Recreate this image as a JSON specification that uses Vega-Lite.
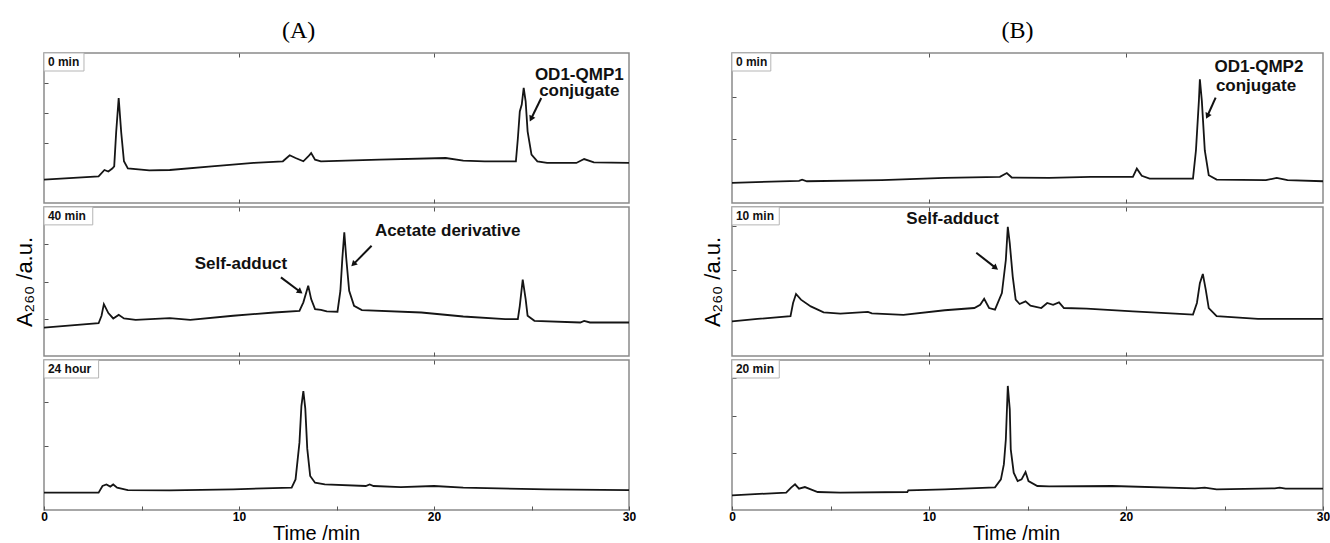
{
  "$schema": "https://vega.github.io/schema/vega-lite/v6.json",
  "padding": {"left": 12, "top": 18, "right": 0, "bottom": 0},
  "background": "white",
  "config": {
    "view": {"stroke": "#8a8a8a", "strokeWidth": 1.5},
    "axis": {"domain": false, "grid": false, "tickColor": "#555555", "tickWidth": 1, "labels": false, "tickSize": 4},
    "text": {"font": "Liberation Sans"}
  },
  "datasets": {
    "trace": [
      {"s":"A1","t":0,"v":15.6},{"s":"A1","t":2.8,"v":17.8},{"s":"A1","t":3.1,"v":22},{"s":"A1","t":3.3,"v":21},{"s":"A1","t":3.5,"v":23},{"s":"A1","t":3.6,"v":24.4},{"s":"A1","t":3.7,"v":47},{"s":"A1","t":3.83,"v":70},{"s":"A1","t":3.96,"v":47},{"s":"A1","t":4.1,"v":27.8},{"s":"A1","t":4.3,"v":23},{"s":"A1","t":5.4,"v":21.8},{"s":"A1","t":6.45,"v":22},{"s":"A1","t":8.6,"v":24.4},{"s":"A1","t":10.75,"v":26.7},{"s":"A1","t":12.25,"v":27.8},{"s":"A1","t":12.6,"v":31.8},{"s":"A1","t":12.9,"v":30},{"s":"A1","t":13.3,"v":27.8},{"s":"A1","t":13.55,"v":31},{"s":"A1","t":13.7,"v":33.3},{"s":"A1","t":13.9,"v":28.9},{"s":"A1","t":14.2,"v":27.8},{"s":"A1","t":17.2,"v":28.9},{"s":"A1","t":20.6,"v":30},{"s":"A1","t":21.5,"v":28.2},{"s":"A1","t":22.6,"v":27.8},{"s":"A1","t":24.2,"v":27.8},{"s":"A1","t":24.3,"v":43},{"s":"A1","t":24.4,"v":61},{"s":"A1","t":24.5,"v":65.6},{"s":"A1","t":24.6,"v":76.7},{"s":"A1","t":24.7,"v":67.8},{"s":"A1","t":24.8,"v":47.8},{"s":"A1","t":25.0,"v":32.2},{"s":"A1","t":25.3,"v":27.8},{"s":"A1","t":25.8,"v":26.7},{"s":"A1","t":27.3,"v":26.7},{"s":"A1","t":27.7,"v":29.3},{"s":"A1","t":28.2,"v":27.1},{"s":"A1","t":30,"v":26.7},
      {"s":"A2","t":0,"v":19.1},{"s":"A2","t":2.8,"v":22},{"s":"A2","t":2.95,"v":27},{"s":"A2","t":3.07,"v":34.8},{"s":"A2","t":3.3,"v":28.8},{"s":"A2","t":3.55,"v":25.2},{"s":"A2","t":3.83,"v":27.6},{"s":"A2","t":4.1,"v":25.2},{"s":"A2","t":4.7,"v":24.3},{"s":"A2","t":6.45,"v":25.4},{"s":"A2","t":7.5,"v":24.3},{"s":"A2","t":9.7,"v":27},{"s":"A2","t":11.8,"v":29.2},{"s":"A2","t":13.1,"v":30.3},{"s":"A2","t":13.3,"v":36},{"s":"A2","t":13.55,"v":47.2},{"s":"A2","t":13.7,"v":38.2},{"s":"A2","t":13.9,"v":31.5},{"s":"A2","t":14.2,"v":31},{"s":"A2","t":14.5,"v":29.9},{"s":"A2","t":15.05,"v":29.7},{"s":"A2","t":15.2,"v":43.8},{"s":"A2","t":15.3,"v":65.6},{"s":"A2","t":15.4,"v":83},{"s":"A2","t":15.5,"v":65.6},{"s":"A2","t":15.65,"v":43.8},{"s":"A2","t":15.9,"v":33.7},{"s":"A2","t":16.3,"v":30.8},{"s":"A2","t":19.35,"v":29.2},{"s":"A2","t":21.5,"v":26.5},{"s":"A2","t":23.65,"v":24.7},{"s":"A2","t":24.3,"v":24.7},{"s":"A2","t":24.4,"v":33.7},{"s":"A2","t":24.55,"v":51.2},{"s":"A2","t":24.7,"v":38.2},{"s":"A2","t":24.8,"v":27},{"s":"A2","t":25.15,"v":23.6},{"s":"A2","t":27.5,"v":22.5},{"s":"A2","t":27.7,"v":23.6},{"s":"A2","t":28.0,"v":22.5},{"s":"A2","t":30,"v":22.5},
      {"s":"A3","t":0,"v":11.6},{"s":"A3","t":2.8,"v":11.6},{"s":"A3","t":3.0,"v":16},{"s":"A3","t":3.2,"v":17},{"s":"A3","t":3.4,"v":15.6},{"s":"A3","t":3.55,"v":17},{"s":"A3","t":3.75,"v":14.9},{"s":"A3","t":4.3,"v":13.3},{"s":"A3","t":6.45,"v":13.1},{"s":"A3","t":9.7,"v":13.8},{"s":"A3","t":12.7,"v":14.9},{"s":"A3","t":12.9,"v":20.4},{"s":"A3","t":13.1,"v":44.9},{"s":"A3","t":13.2,"v":69.3},{"s":"A3","t":13.3,"v":79.3},{"s":"A3","t":13.4,"v":67.6},{"s":"A3","t":13.5,"v":40.9},{"s":"A3","t":13.65,"v":22.7},{"s":"A3","t":13.9,"v":18.2},{"s":"A3","t":14.4,"v":17.1},{"s":"A3","t":16.5,"v":16},{"s":"A3","t":16.7,"v":17},{"s":"A3","t":16.9,"v":16},{"s":"A3","t":18.3,"v":15.3},{"s":"A3","t":20.0,"v":16},{"s":"A3","t":21.5,"v":14.9},{"s":"A3","t":25.8,"v":13.8},{"s":"A3","t":30,"v":13.3},
      {"s":"B1","t":0,"v":13.4},{"s":"B1","t":3.4,"v":14.8},{"s":"B1","t":3.56,"v":15.6},{"s":"B1","t":3.8,"v":14.5},{"s":"B1","t":7.6,"v":15.2},{"s":"B1","t":10.8,"v":16.7},{"s":"B1","t":13.6,"v":17.4},{"s":"B1","t":13.95,"v":20},{"s":"B1","t":14.2,"v":17},{"s":"B1","t":16.1,"v":16.7},{"s":"B1","t":18.2,"v":17.4},{"s":"B1","t":20.35,"v":17.4},{"s":"B1","t":20.55,"v":22.9},{"s":"B1","t":20.8,"v":18.1},{"s":"B1","t":21.2,"v":16.3},{"s":"B1","t":23.4,"v":16.3},{"s":"B1","t":23.55,"v":35},{"s":"B1","t":23.7,"v":68.1},{"s":"B1","t":23.75,"v":82.4},{"s":"B1","t":23.85,"v":68.1},{"s":"B1","t":24.0,"v":35},{"s":"B1","t":24.2,"v":18.5},{"s":"B1","t":24.6,"v":15.6},{"s":"B1","t":27.1,"v":15.2},{"s":"B1","t":27.65,"v":16.7},{"s":"B1","t":28.2,"v":15.2},{"s":"B1","t":30,"v":14.5},
      {"s":"B2","t":0,"v":23.3},{"s":"B2","t":1.3,"v":24.9},{"s":"B2","t":2.97,"v":26.7},{"s":"B2","t":3.1,"v":35.6},{"s":"B2","t":3.25,"v":41.6},{"s":"B2","t":3.5,"v":37.8},{"s":"B2","t":4.0,"v":33.3},{"s":"B2","t":4.65,"v":29.3},{"s":"B2","t":5.5,"v":28.4},{"s":"B2","t":6.9,"v":29.6},{"s":"B2","t":7.1,"v":28.6},{"s":"B2","t":8.7,"v":27.6},{"s":"B2","t":10.8,"v":30.7},{"s":"B2","t":12.3,"v":32.2},{"s":"B2","t":12.6,"v":34.4},{"s":"B2","t":12.8,"v":38.4},{"s":"B2","t":13.05,"v":32.2},{"s":"B2","t":13.35,"v":31.1},{"s":"B2","t":13.7,"v":42.2},{"s":"B2","t":13.9,"v":64.4},{"s":"B2","t":14.0,"v":86.7},{"s":"B2","t":14.1,"v":75.6},{"s":"B2","t":14.25,"v":53.3},{"s":"B2","t":14.4,"v":37.8},{"s":"B2","t":14.6,"v":34.9},{"s":"B2","t":14.9,"v":36.7},{"s":"B2","t":15.15,"v":33.8},{"s":"B2","t":15.7,"v":32.2},{"s":"B2","t":16.0,"v":35.6},{"s":"B2","t":16.3,"v":34.4},{"s":"B2","t":16.6,"v":36},{"s":"B2","t":16.85,"v":32.2},{"s":"B2","t":18.0,"v":31.8},{"s":"B2","t":20.35,"v":30},{"s":"B2","t":22.5,"v":28.4},{"s":"B2","t":23.4,"v":27.8},{"s":"B2","t":23.6,"v":35.6},{"s":"B2","t":23.75,"v":48.9},{"s":"B2","t":23.9,"v":55.1},{"s":"B2","t":24.05,"v":44.4},{"s":"B2","t":24.2,"v":32.2},{"s":"B2","t":24.6,"v":26.7},{"s":"B2","t":26.7,"v":24.9},{"s":"B2","t":30,"v":24.9},
      {"s":"B3","t":0,"v":9.8},{"s":"B3","t":2.75,"v":11.6},{"s":"B3","t":3.0,"v":14.9},{"s":"B3","t":3.2,"v":17.1},{"s":"B3","t":3.4,"v":14.2},{"s":"B3","t":3.7,"v":15.3},{"s":"B3","t":4.0,"v":13.8},{"s":"B3","t":4.35,"v":12},{"s":"B3","t":5.5,"v":11.6},{"s":"B3","t":8.9,"v":12},{"s":"B3","t":8.95,"v":13.1},{"s":"B3","t":10.8,"v":13.8},{"s":"B3","t":13.35,"v":15.1},{"s":"B3","t":13.65,"v":20.4},{"s":"B3","t":13.8,"v":30.4},{"s":"B3","t":13.9,"v":47},{"s":"B3","t":14.0,"v":82.7},{"s":"B3","t":14.1,"v":67.1},{"s":"B3","t":14.15,"v":40.4},{"s":"B3","t":14.3,"v":24.9},{"s":"B3","t":14.5,"v":19.3},{"s":"B3","t":14.7,"v":20.4},{"s":"B3","t":14.9,"v":25.3},{"s":"B3","t":15.05,"v":19.3},{"s":"B3","t":15.5,"v":16},{"s":"B3","t":16.1,"v":15.8},{"s":"B3","t":19.3,"v":16},{"s":"B3","t":23.5,"v":14.4},{"s":"B3","t":24.0,"v":14.9},{"s":"B3","t":24.6,"v":13.8},{"s":"B3","t":27.55,"v":14.4},{"s":"B3","t":27.8,"v":14.9},{"s":"B3","t":28.1,"v":14.2},{"s":"B3","t":30,"v":14.2}
    ],
    "boxes": [
      {"s":"A1","x0":0,"x1":2.05,"y0":88,"y1":100,"tx":0.2,"ty":94,"label":"0 min"},
      {"s":"A2","x0":0,"x1":2.5,"y0":88,"y1":100,"tx":0.2,"ty":94,"label":"40 min"},
      {"s":"A3","x0":0,"x1":2.8,"y0":88,"y1":100,"tx":0.2,"ty":94,"label":"24 hour"},
      {"s":"B1","x0":0,"x1":1.97,"y0":88,"y1":100,"tx":0.2,"ty":94,"label":"0 min"},
      {"s":"B2","x0":0,"x1":2.4,"y0":88,"y1":100,"tx":0.2,"ty":94,"label":"10 min"},
      {"s":"B3","x0":0,"x1":2.4,"y0":88,"y1":100,"tx":0.2,"ty":94,"label":"20 min"}
    ],
    "notes": [
      {"s":"A1","t":27.45,"v":85.5,"text":"OD1-QMP1"},{"s":"A1","t":27.45,"v":74.5,"text":"conjugate"},
      {"s":"A2","t":10.1,"v":61.5,"text":"Self-adduct"},{"s":"A2","t":20.7,"v":84,"text":"Acetate derivative"},
      {"s":"B1","t":26.75,"v":91,"text":"OD1-QMP2"},{"s":"B1","t":26.6,"v":78,"text":"conjugate"},
      {"s":"B2","t":11.2,"v":92,"text":"Self-adduct"}
    ],
    "arrows": [
      {"s":"A1","id":"a1","t":25.5,"v":70,"t2":25.0,"v2":56.7},
      {"s":"A2","id":"a2s","t":12.15,"v":52.8,"t2":13.1,"v2":43.5},
      {"s":"A2","id":"a2a","t":16.8,"v":74,"t2":15.9,"v2":62},
      {"s":"B1","id":"b1","t":24.55,"v":70.3,"t2":24.15,"v2":58.5},
      {"s":"B2","id":"b2","t":12.4,"v":69.3,"t2":13.35,"v2":59.5}
    ]
  },
  "hconcat": [
    {
      "title": {"text": "(A)", "font": "Liberation Serif", "fontSize": 24, "fontWeight": "normal", "color": "#000000", "anchor": "middle", "offset": 9, "dx": -26},
      "spacing": 0,
      "vconcat": [
        {
          "width": 585, "height": 150,
          "resolve": {"axis": {"x": "independent"}},
          "layer": [
            {"data": {"name": "trace"}, "transform": [{"filter": "datum.s==='A1'"}], "mark": {"type": "line", "color": "#151515", "strokeWidth": 1.8},
             "encoding": {"x": {"field": "t", "type": "quantitative", "scale": {"domain": [0, 30], "nice": false, "zero": false}, "axis": {"orient": "bottom", "offset": -4, "tickSize": 4, "values": [10, 20], "labels": false, "title": null}},
                          "y": {"field": "v", "type": "quantitative", "scale": {"domain": [0, 100], "nice": false, "zero": false}, "axis": {"offset": -4, "tickSize": 4, "values": [40, 60, 80], "labels": false, "title": null}}}},
            {"data": {"name": "boxes"}, "transform": [{"filter": "datum.s==='A1'"}], "mark": {"type": "rect", "fill": "white", "stroke": "#b5b5b5", "strokeWidth": 1},
             "encoding": {"x": {"field": "x0", "type": "quantitative", "scale": {"domain": [0, 30], "nice": false, "zero": false}, "axis": {"orient": "top", "offset": -4, "tickSize": 4, "values": [10, 20], "labels": false, "title": null}}, "x2": {"field": "x1"},
                          "y": {"field": "y0", "type": "quantitative", "scale": {"domain": [0, 100], "nice": false, "zero": false}}, "y2": {"field": "y1"}}},
            {"data": {"name": "boxes"}, "transform": [{"filter": "datum.s==='A1'"}], "mark": {"type": "text", "fontWeight": "bold", "fontSize": 12, "align": "left", "baseline": "middle", "color": "#111111"},
             "encoding": {"x": {"field": "tx", "type": "quantitative", "scale": {"domain": [0, 30], "nice": false, "zero": false}, "axis": null},
                          "y": {"field": "ty", "type": "quantitative", "scale": {"domain": [0, 100], "nice": false, "zero": false}}, "text": {"field": "label"}}},
            {"data": {"name": "notes"}, "transform": [{"filter": "datum.s==='A1'"}], "mark": {"type": "text", "fontWeight": "bold", "fontSize": 17, "align": "center", "baseline": "middle", "color": "#111111"},
             "encoding": {"x": {"field": "t", "type": "quantitative", "scale": {"domain": [0, 30], "nice": false, "zero": false}, "axis": null},
                          "y": {"field": "v", "type": "quantitative", "scale": {"domain": [0, 100], "nice": false, "zero": false}}, "text": {"field": "text"}}},
            {"data": {"name": "arrows"}, "transform": [{"filter": "datum.s==='A1'"}], "mark": {"type": "rule", "strokeWidth": 2, "color": "#111111"},
             "encoding": {"x": {"field": "t", "type": "quantitative", "scale": {"domain": [0, 30], "nice": false, "zero": false}, "axis": null}, "x2": {"field": "t2"},
                          "y": {"field": "v", "type": "quantitative", "scale": {"domain": [0, 100], "nice": false, "zero": false}}, "y2": {"field": "v2"}}},
            {"data": {"name": "arrows"}, "transform": [{"filter": "datum.id==='a1'"}], "mark": {"type": "point", "shape": "triangle", "angle": 206, "filled": true, "size": 45, "color": "#111111", "opacity": 1},
             "encoding": {"x": {"field": "t2", "type": "quantitative", "scale": {"domain": [0, 30], "nice": false, "zero": false}, "axis": null},
                          "y": {"field": "v2", "type": "quantitative", "scale": {"domain": [0, 100], "nice": false, "zero": false}}}}
          ]
        },
        {
          "width": 585, "height": 149,
          "resolve": {"axis": {"x": "independent"}},
          "layer": [
            {"data": {"name": "trace"}, "transform": [{"filter": "datum.s==='A2'"}], "mark": {"type": "line", "color": "#151515", "strokeWidth": 1.8},
             "encoding": {"x": {"field": "t", "type": "quantitative", "scale": {"domain": [0, 30], "nice": false, "zero": false}, "axis": {"orient": "bottom", "offset": -4, "tickSize": 4, "values": [10, 20], "labels": false, "title": null}},
                          "y": {"field": "v", "type": "quantitative", "scale": {"domain": [0, 100], "nice": false, "zero": false}, "axis": {"offset": -4, "tickSize": 4, "values": [25, 50, 75], "labels": false, "title": "A₂₆₀ /a.u.", "titleFont": "Liberation Sans", "titleFontSize": 22, "titleFontWeight": "normal", "titleColor": "#000000", "titlePadding": 7}}}},
            {"data": {"name": "boxes"}, "transform": [{"filter": "datum.s==='A2'"}], "mark": {"type": "rect", "fill": "white", "stroke": "#b5b5b5", "strokeWidth": 1},
             "encoding": {"x": {"field": "x0", "type": "quantitative", "scale": {"domain": [0, 30], "nice": false, "zero": false}, "axis": {"orient": "top", "offset": -4, "tickSize": 4, "values": [10, 20], "labels": false, "title": null}}, "x2": {"field": "x1"},
                          "y": {"field": "y0", "type": "quantitative", "scale": {"domain": [0, 100], "nice": false, "zero": false}}, "y2": {"field": "y1"}}},
            {"data": {"name": "boxes"}, "transform": [{"filter": "datum.s==='A2'"}], "mark": {"type": "text", "fontWeight": "bold", "fontSize": 12, "align": "left", "baseline": "middle", "color": "#111111"},
             "encoding": {"x": {"field": "tx", "type": "quantitative", "scale": {"domain": [0, 30], "nice": false, "zero": false}, "axis": null},
                          "y": {"field": "ty", "type": "quantitative", "scale": {"domain": [0, 100], "nice": false, "zero": false}}, "text": {"field": "label"}}},
            {"data": {"name": "notes"}, "transform": [{"filter": "datum.s==='A2'"}], "mark": {"type": "text", "fontWeight": "bold", "fontSize": 17, "align": "center", "baseline": "middle", "color": "#111111"},
             "encoding": {"x": {"field": "t", "type": "quantitative", "scale": {"domain": [0, 30], "nice": false, "zero": false}, "axis": null},
                          "y": {"field": "v", "type": "quantitative", "scale": {"domain": [0, 100], "nice": false, "zero": false}}, "text": {"field": "text"}}},
            {"data": {"name": "arrows"}, "transform": [{"filter": "datum.s==='A2'"}], "mark": {"type": "rule", "strokeWidth": 2, "color": "#111111"},
             "encoding": {"x": {"field": "t", "type": "quantitative", "scale": {"domain": [0, 30], "nice": false, "zero": false}, "axis": null}, "x2": {"field": "t2"},
                          "y": {"field": "v", "type": "quantitative", "scale": {"domain": [0, 100], "nice": false, "zero": false}}, "y2": {"field": "v2"}}},
            {"data": {"name": "arrows"}, "transform": [{"filter": "datum.id==='a2s'"}], "mark": {"type": "point", "shape": "triangle", "angle": 127, "filled": true, "size": 45, "color": "#111111", "opacity": 1},
             "encoding": {"x": {"field": "t2", "type": "quantitative", "scale": {"domain": [0, 30], "nice": false, "zero": false}, "axis": null},
                          "y": {"field": "v2", "type": "quantitative", "scale": {"domain": [0, 100], "nice": false, "zero": false}}}},
            {"data": {"name": "arrows"}, "transform": [{"filter": "datum.id==='a2a'"}], "mark": {"type": "point", "shape": "triangle", "angle": 225, "filled": true, "size": 45, "color": "#111111", "opacity": 1},
             "encoding": {"x": {"field": "t2", "type": "quantitative", "scale": {"domain": [0, 30], "nice": false, "zero": false}, "axis": null},
                          "y": {"field": "v2", "type": "quantitative", "scale": {"domain": [0, 100], "nice": false, "zero": false}}}}
          ]
        },
        {
          "width": 585, "height": 150,
          "resolve": {"axis": {"x": "independent"}},
          "layer": [
            {"data": {"name": "trace"}, "transform": [{"filter": "datum.s==='A3'"}], "mark": {"type": "line", "color": "#151515", "strokeWidth": 1.8},
             "encoding": {"x": {"field": "t", "type": "quantitative", "scale": {"domain": [0, 30], "nice": false, "zero": false}, "axis": {"orient": "bottom", "offset": -4, "tickSize": 4, "values": [0, 5, 10, 15, 20, 25, 30], "labels": true, "labelExpr": "datum.value % 10 === 0 ? datum.label : ''", "labelFont": "Liberation Sans", "labelFontWeight": "bold", "labelFontSize": 12, "labelColor": "#000000", "labelFlush": false, "labelOverlap": false, "labelPadding": 1, "title": "Time /min", "titleFont": "Liberation Sans", "titleFontSize": 20, "titleFontWeight": "normal", "titleColor": "#000000", "titlePadding": 1, "titleX": 272}},
                          "y": {"field": "v", "type": "quantitative", "scale": {"domain": [0, 100], "nice": false, "zero": false}, "axis": {"offset": -4, "tickSize": 4, "values": [43, 72], "labels": false, "title": null}}}},
            {"data": {"name": "boxes"}, "transform": [{"filter": "datum.s==='A3'"}], "mark": {"type": "rect", "fill": "white", "stroke": "#b5b5b5", "strokeWidth": 1},
             "encoding": {"x": {"field": "x0", "type": "quantitative", "scale": {"domain": [0, 30], "nice": false, "zero": false}, "axis": {"orient": "top", "offset": -4, "tickSize": 4, "values": [10, 20], "labels": false, "title": null}}, "x2": {"field": "x1"},
                          "y": {"field": "y0", "type": "quantitative", "scale": {"domain": [0, 100], "nice": false, "zero": false}}, "y2": {"field": "y1"}}},
            {"data": {"name": "boxes"}, "transform": [{"filter": "datum.s==='A3'"}], "mark": {"type": "text", "fontWeight": "bold", "fontSize": 12, "align": "left", "baseline": "middle", "color": "#111111"},
             "encoding": {"x": {"field": "tx", "type": "quantitative", "scale": {"domain": [0, 30], "nice": false, "zero": false}, "axis": null},
                          "y": {"field": "ty", "type": "quantitative", "scale": {"domain": [0, 100], "nice": false, "zero": false}}, "text": {"field": "label"}}}
          ]
        }
      ]
    },
    {
      "title": {"text": "(B)", "font": "Liberation Serif", "fontSize": 24, "fontWeight": "normal", "color": "#000000", "anchor": "middle", "offset": 9, "dx": 2},
      "spacing": 0,
      "vconcat": [
        {
          "width": 591, "height": 150,
          "resolve": {"axis": {"x": "independent"}},
          "layer": [
            {"data": {"name": "trace"}, "transform": [{"filter": "datum.s==='B1'"}], "mark": {"type": "line", "color": "#151515", "strokeWidth": 1.8},
             "encoding": {"x": {"field": "t", "type": "quantitative", "scale": {"domain": [0, 30], "nice": false, "zero": false}, "axis": {"orient": "bottom", "offset": -4, "tickSize": 4, "values": [10, 20], "labels": false, "title": null}},
                          "y": {"field": "v", "type": "quantitative", "scale": {"domain": [0, 100], "nice": false, "zero": false}, "axis": {"offset": -4, "tickSize": 4, "values": [43, 71], "labels": false, "title": null}}}},
            {"data": {"name": "boxes"}, "transform": [{"filter": "datum.s==='B1'"}], "mark": {"type": "rect", "fill": "white", "stroke": "#b5b5b5", "strokeWidth": 1},
             "encoding": {"x": {"field": "x0", "type": "quantitative", "scale": {"domain": [0, 30], "nice": false, "zero": false}, "axis": {"orient": "top", "offset": -4, "tickSize": 4, "values": [10, 20], "labels": false, "title": null}}, "x2": {"field": "x1"},
                          "y": {"field": "y0", "type": "quantitative", "scale": {"domain": [0, 100], "nice": false, "zero": false}}, "y2": {"field": "y1"}}},
            {"data": {"name": "boxes"}, "transform": [{"filter": "datum.s==='B1'"}], "mark": {"type": "text", "fontWeight": "bold", "fontSize": 12, "align": "left", "baseline": "middle", "color": "#111111"},
             "encoding": {"x": {"field": "tx", "type": "quantitative", "scale": {"domain": [0, 30], "nice": false, "zero": false}, "axis": null},
                          "y": {"field": "ty", "type": "quantitative", "scale": {"domain": [0, 100], "nice": false, "zero": false}}, "text": {"field": "label"}}},
            {"data": {"name": "notes"}, "transform": [{"filter": "datum.s==='B1'"}], "mark": {"type": "text", "fontWeight": "bold", "fontSize": 17, "align": "center", "baseline": "middle", "color": "#111111"},
             "encoding": {"x": {"field": "t", "type": "quantitative", "scale": {"domain": [0, 30], "nice": false, "zero": false}, "axis": null},
                          "y": {"field": "v", "type": "quantitative", "scale": {"domain": [0, 100], "nice": false, "zero": false}}, "text": {"field": "text"}}},
            {"data": {"name": "arrows"}, "transform": [{"filter": "datum.s==='B1'"}], "mark": {"type": "rule", "strokeWidth": 2, "color": "#111111"},
             "encoding": {"x": {"field": "t", "type": "quantitative", "scale": {"domain": [0, 30], "nice": false, "zero": false}, "axis": null}, "x2": {"field": "t2"},
                          "y": {"field": "v", "type": "quantitative", "scale": {"domain": [0, 100], "nice": false, "zero": false}}, "y2": {"field": "v2"}}},
            {"data": {"name": "arrows"}, "transform": [{"filter": "datum.id==='b1'"}], "mark": {"type": "point", "shape": "triangle", "angle": 205, "filled": true, "size": 45, "color": "#111111", "opacity": 1},
             "encoding": {"x": {"field": "t2", "type": "quantitative", "scale": {"domain": [0, 30], "nice": false, "zero": false}, "axis": null},
                          "y": {"field": "v2", "type": "quantitative", "scale": {"domain": [0, 100], "nice": false, "zero": false}}}}
          ]
        },
        {
          "width": 591, "height": 149,
          "resolve": {"axis": {"x": "independent"}},
          "layer": [
            {"data": {"name": "trace"}, "transform": [{"filter": "datum.s==='B2'"}], "mark": {"type": "line", "color": "#151515", "strokeWidth": 1.8},
             "encoding": {"x": {"field": "t", "type": "quantitative", "scale": {"domain": [0, 30], "nice": false, "zero": false}, "axis": {"orient": "bottom", "offset": -4, "tickSize": 4, "values": [10, 20], "labels": false, "title": null}},
                          "y": {"field": "v", "type": "quantitative", "scale": {"domain": [0, 100], "nice": false, "zero": false}, "axis": {"offset": -4, "tickSize": 4, "values": [58, 87], "labels": false, "title": "A₂₆₀ /a.u.", "titleFont": "Liberation Sans", "titleFontSize": 22, "titleFontWeight": "normal", "titleColor": "#000000", "titlePadding": 7}}}},
            {"data": {"name": "boxes"}, "transform": [{"filter": "datum.s==='B2'"}], "mark": {"type": "rect", "fill": "white", "stroke": "#b5b5b5", "strokeWidth": 1},
             "encoding": {"x": {"field": "x0", "type": "quantitative", "scale": {"domain": [0, 30], "nice": false, "zero": false}, "axis": {"orient": "top", "offset": -4, "tickSize": 4, "values": [10, 20], "labels": false, "title": null}}, "x2": {"field": "x1"},
                          "y": {"field": "y0", "type": "quantitative", "scale": {"domain": [0, 100], "nice": false, "zero": false}}, "y2": {"field": "y1"}}},
            {"data": {"name": "boxes"}, "transform": [{"filter": "datum.s==='B2'"}], "mark": {"type": "text", "fontWeight": "bold", "fontSize": 12, "align": "left", "baseline": "middle", "color": "#111111"},
             "encoding": {"x": {"field": "tx", "type": "quantitative", "scale": {"domain": [0, 30], "nice": false, "zero": false}, "axis": null},
                          "y": {"field": "ty", "type": "quantitative", "scale": {"domain": [0, 100], "nice": false, "zero": false}}, "text": {"field": "label"}}},
            {"data": {"name": "notes"}, "transform": [{"filter": "datum.s==='B2'"}], "mark": {"type": "text", "fontWeight": "bold", "fontSize": 17, "align": "center", "baseline": "middle", "color": "#111111"},
             "encoding": {"x": {"field": "t", "type": "quantitative", "scale": {"domain": [0, 30], "nice": false, "zero": false}, "axis": null},
                          "y": {"field": "v", "type": "quantitative", "scale": {"domain": [0, 100], "nice": false, "zero": false}}, "text": {"field": "text"}}},
            {"data": {"name": "arrows"}, "transform": [{"filter": "datum.s==='B2'"}], "mark": {"type": "rule", "strokeWidth": 2, "color": "#111111"},
             "encoding": {"x": {"field": "t", "type": "quantitative", "scale": {"domain": [0, 30], "nice": false, "zero": false}, "axis": null}, "x2": {"field": "t2"},
                          "y": {"field": "v", "type": "quantitative", "scale": {"domain": [0, 100], "nice": false, "zero": false}}, "y2": {"field": "v2"}}},
            {"data": {"name": "arrows"}, "transform": [{"filter": "datum.id==='b2'"}], "mark": {"type": "point", "shape": "triangle", "angle": 128, "filled": true, "size": 45, "color": "#111111", "opacity": 1},
             "encoding": {"x": {"field": "t2", "type": "quantitative", "scale": {"domain": [0, 30], "nice": false, "zero": false}, "axis": null},
                          "y": {"field": "v2", "type": "quantitative", "scale": {"domain": [0, 100], "nice": false, "zero": false}}}}
          ]
        },
        {
          "width": 591, "height": 150,
          "resolve": {"axis": {"x": "independent"}},
          "layer": [
            {"data": {"name": "trace"}, "transform": [{"filter": "datum.s==='B3'"}], "mark": {"type": "line", "color": "#151515", "strokeWidth": 1.8},
             "encoding": {"x": {"field": "t", "type": "quantitative", "scale": {"domain": [0, 30], "nice": false, "zero": false}, "axis": {"orient": "bottom", "offset": -4, "tickSize": 4, "values": [0, 5, 10, 15, 20, 25, 30], "labels": true, "labelExpr": "datum.value % 10 === 0 ? datum.label : ''", "labelFont": "Liberation Sans", "labelFontWeight": "bold", "labelFontSize": 12, "labelColor": "#000000", "labelFlush": false, "labelOverlap": false, "labelPadding": 1, "title": "Time /min", "titleFont": "Liberation Sans", "titleFontSize": 20, "titleFontWeight": "normal", "titleColor": "#000000", "titlePadding": 1, "titleX": 284}},
                          "y": {"field": "v", "type": "quantitative", "scale": {"domain": [0, 100], "nice": false, "zero": false}, "axis": {"offset": -4, "tickSize": 4, "values": [38, 63, 88], "labels": false, "title": null}}}},
            {"data": {"name": "boxes"}, "transform": [{"filter": "datum.s==='B3'"}], "mark": {"type": "rect", "fill": "white", "stroke": "#b5b5b5", "strokeWidth": 1},
             "encoding": {"x": {"field": "x0", "type": "quantitative", "scale": {"domain": [0, 30], "nice": false, "zero": false}, "axis": {"orient": "top", "offset": -4, "tickSize": 4, "values": [10, 20], "labels": false, "title": null}}, "x2": {"field": "x1"},
                          "y": {"field": "y0", "type": "quantitative", "scale": {"domain": [0, 100], "nice": false, "zero": false}}, "y2": {"field": "y1"}}},
            {"data": {"name": "boxes"}, "transform": [{"filter": "datum.s==='B3'"}], "mark": {"type": "text", "fontWeight": "bold", "fontSize": 12, "align": "left", "baseline": "middle", "color": "#111111"},
             "encoding": {"x": {"field": "tx", "type": "quantitative", "scale": {"domain": [0, 30], "nice": false, "zero": false}, "axis": null},
                          "y": {"field": "ty", "type": "quantitative", "scale": {"domain": [0, 100], "nice": false, "zero": false}}, "text": {"field": "label"}}}
          ]
        }
      ]
    }
  ],
  "spacing": 63
}
